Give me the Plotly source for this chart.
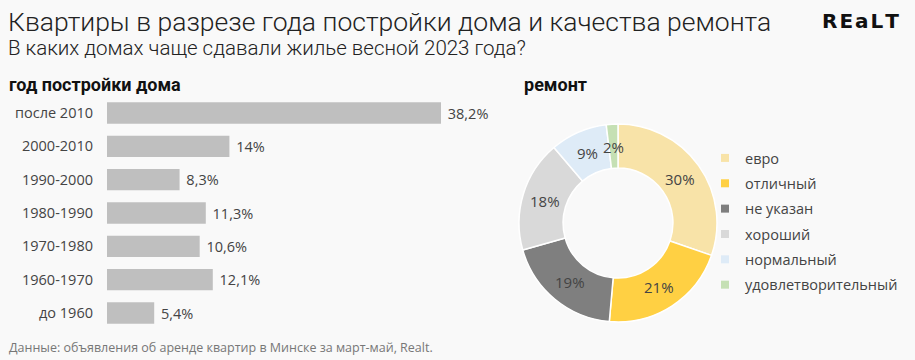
import math
import plotly.graph_objects as go

# ---- data ----
years = ["после 2010", "2000-2010", "1990-2000", "1980-1990", "1970-1980", "1960-1970", "до 1960"]
year_share = [38.2, 14.0, 8.3, 11.3, 10.6, 12.1, 5.4]
year_text = ["38,2%", "14%", "8,3%", "11,3%", "10,6%", "12,1%", "5,4%"]

repair = ["евро", "отличный", "не указан", "хороший", "нормальный", "удовлетворительный"]
repair_share = [30.3, 21.1, 19.2, 18.2, 9.3, 1.9]
repair_text = ["30%", "21%", "19%", "18%", "9%", "2%"]
repair_colors = ["#f8e3a8", "#ffd043", "#7f7f7f", "#d9d9d9", "#deebf7", "#c5e0b4"]

W, H = 915, 360
BG = "#f9f9f9"
TXT = "#444444"
FONT = "Open Sans"

fig = go.Figure()

# ---- bar chart ----
fig.add_trace(go.Bar(
    x=year_share, y=years, orientation="h",
    marker=dict(color="#bfbfbf", line=dict(width=0)),
    text=year_text, texttemplate="\u00a0%{text}", textposition="outside", cliponaxis=False,
    textfont=dict(family=FONT, size=14.5, color=TXT),
    hoverinfo="skip", showlegend=False, width=0.64,
))

# ---- donut ----
cx, cy, R = 618, 223, 99
fig.add_trace(go.Pie(
    labels=repair, values=repair_share, sort=False, direction="clockwise", rotation=0,
    hole=0.555, marker=dict(colors=repair_colors, line=dict(color="white", width=1.5)),
    textinfo="none", showlegend=False, hoverinfo="skip",
    domain=dict(x=[(cx - R) / W, (cx + R) / W], y=[1 - (cy + R) / H, 1 - (cy - R) / H]),
))

# legend entries via dummy traces
for lab, col in zip(repair, repair_colors):
    fig.add_trace(go.Scatter(
        x=[None], y=[None], mode="markers", name=lab, legendgroup=lab,
        marker=dict(symbol="square", size=8, color=col), showlegend=True,
        xaxis="x2", yaxis="y2",
    ))

# donut labels placed at slice mid-angles computed from the data
total = sum(repair_share)
acc = 0.0
r_mid = 76
annotations = []
for v, t in zip(repair_share, repair_text):
    mid = (acc + v / 2) / total * 2 * math.pi
    acc += v
    px = cx + r_mid * math.sin(mid)
    py = cy - r_mid * math.cos(mid)
    annotations.append(dict(
        x=px / W, y=1 - py / H, xref="paper", yref="paper", text=t, showarrow=False,
        font=dict(family=FONT, size=15, color=TXT), xanchor="center", yanchor="middle",
    ))

# ---- texts ----
texts = [
    dict(x=6 / W, y=1 - 21 / H, text="Квартиры в разрезе года постройки дома и качества ремонта",
         font=dict(family="Roboto", size=26.5, color="#222222", weight=300)),
    dict(x=6 / W, y=1 - 48 / H, text="В каких домах чаще сдавали жилье весной 2023 года?",
         font=dict(family="Roboto", size=20.5, color="#222222", weight=300)),
    dict(x=7 / W, y=1 - 84 / H, text="<b>год постройки дома</b>",
         font=dict(family="Roboto", size=18, color="#111111")),
    dict(x=522 / W, y=1 - 84 / H, text="<b>ремонт</b>",
         font=dict(family="Roboto", size=18, color="#111111")),
    dict(x=7 / W, y=1 - 347 / H, text="Данные: объявления об аренде квартир в Минске за март-май, Realt.",
         font=dict(family=FONT, size=12.5, color="#777777")),
    dict(x=901 / W, y=1 - 21 / H, xanchor="right",
         text="<b>R\u200aE\u200aa\u200aL\u200aT</b>",
         font=dict(family="DejaVu Sans", size=20, color="#111111")),
]
for a in texts:
    a.update(xref="paper", yref="paper", showarrow=False, yanchor="middle")
    a.setdefault("xanchor", "left")
annotations += texts

# bar axis geometry
x0, x1 = 107, 480
scale = (441 - 107) / 38.2
y_top, y_bot = 113 - 33.33 / 2, 313 + 33.33 / 2

fig.update_layout(
    width=W, height=H, margin=dict(l=0, r=0, t=0, b=0, autoexpand=False),
    paper_bgcolor=BG, plot_bgcolor=BG,
    xaxis=dict(domain=[x0 / W, x1 / W], range=[0, (x1 - x0) / scale], visible=False,
               fixedrange=True, automargin=False),
    yaxis=dict(domain=[1 - y_bot / H, 1 - y_top / H], autorange="reversed", showgrid=False,
               zeroline=False, showline=False, ticks="", ticklabelstandoff=13, automargin=False,
               tickfont=dict(family=FONT, size=14.5, color=TXT)),
    xaxis2=dict(domain=[0.99, 1.0], visible=False), yaxis2=dict(domain=[0.99, 1.0], visible=False),
    legend=dict(x=705 / W, y=1 - 142 / H, xanchor="left", yanchor="top", bgcolor="rgba(0,0,0,0)",
                font=dict(family=FONT, size=14.5, color=TXT), tracegroupgap=3.5, itemwidth=30),
    annotations=annotations, bargap=0.36,
)

fig.write_html("out.html", config={"displayModeBar": False},
               post_script="document.body.style.margin='0';document.body.style.background='%s';" % BG)
